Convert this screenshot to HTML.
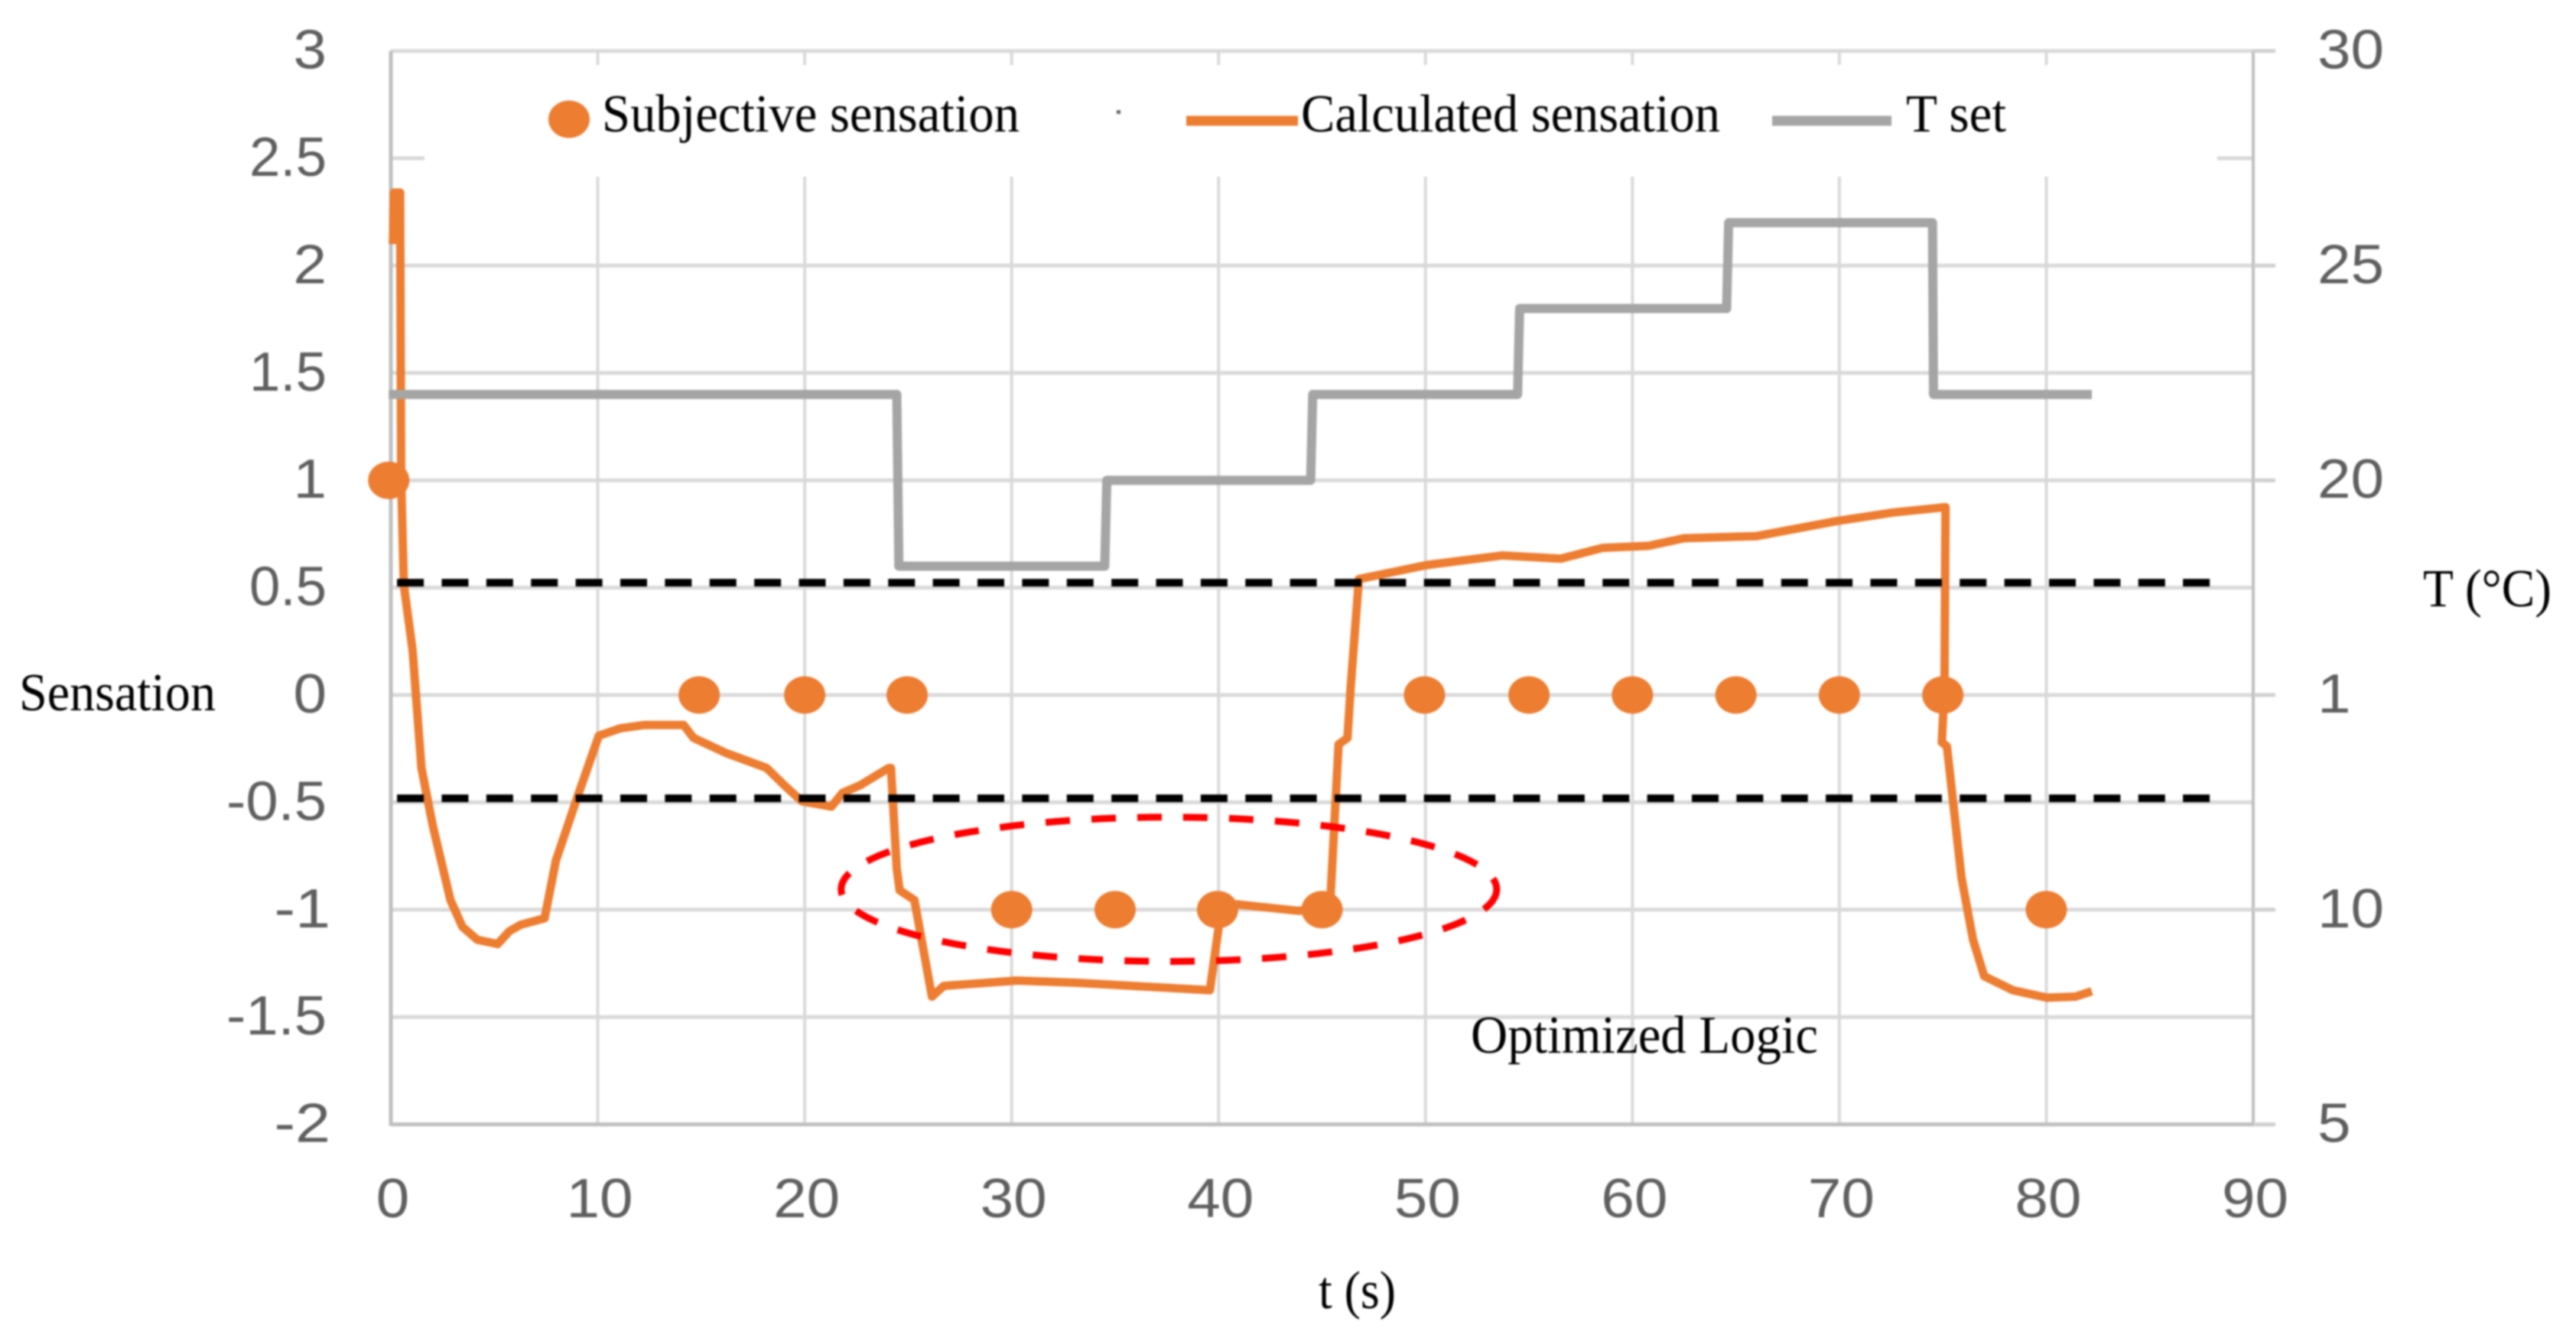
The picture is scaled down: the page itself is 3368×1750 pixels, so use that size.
<!DOCTYPE html>
<html lang="en">
<head>
<meta charset="utf-8">
<title>Subjective and calculated sensation over time</title>
<style>
  html, body { margin: 0; padding: 0; background: #fff; }
  #chart { display: block; width: 3368px; height: 1750px; filter: blur(1.1px); }
  .serif { font-family: "Liberation Serif", serif; font-size: 70px; fill: #000; }
  .tick { font-family: "Liberation Sans", sans-serif; font-size: 72px; fill: #5f5f5f; }
</style>
</head>
<body>
<svg id="chart" xmlns="http://www.w3.org/2000/svg" width="3368" height="1750" viewBox="0 0 3368 1750">
  <rect x="0" y="0" width="3368" height="1750" fill="#fff"/>
  <g id="grid"></g>
  <rect x="555" y="85" width="2344" height="146" fill="#fff"/>
  <g id="axes"></g>
  <g id="series"></g>
  <g id="ticks"></g>

  <g>
    <g>
      <ellipse cx="744" cy="156" rx="27" ry="24.5" fill="#ed7d31"/>
      <text class="serif" x="787" y="172" textLength="546" lengthAdjust="spacingAndGlyphs">Subjective sensation</text>
    </g>
    <rect x="1460" y="144" width="5" height="5" fill="#666"/>
    <g>
      <rect x="1551" y="151.5" width="146" height="13" fill="#ed7d31"/>
      <text class="serif" x="1701" y="172" textLength="548" lengthAdjust="spacingAndGlyphs">Calculated sensation</text>
    </g>
    <g>
      <rect x="2317" y="151.5" width="156" height="13" fill="#a5a5a5"/>
      <text class="serif" x="2492" y="172" textLength="131" lengthAdjust="spacingAndGlyphs">T set</text>
    </g>
  </g>

  <text class="serif" x="25" y="929" textLength="257" lengthAdjust="spacingAndGlyphs">Sensation</text>
  <text class="serif" x="3168" y="793" textLength="168" lengthAdjust="spacingAndGlyphs">T (°C)</text>
  <text class="serif" x="1724" y="1711" textLength="101" lengthAdjust="spacingAndGlyphs">t (s)</text>
  <text class="serif" x="1923" y="1377" textLength="454" lengthAdjust="spacingAndGlyphs">Optimized Logic</text>
</svg>

<script>
const xTickLabels = ["0", "10", "20", "30", "40", "50", "60", "70", "80", "90"];
const yTickValues = [3, 2.5, 2, 1.5, 1, 0.5, 0, -0.5, -1, -1.5, -2];
const yTickLabels = ["3", "2.5", "2", "1.5", "1", "0.5", "0", "-0.5", "-1", "-1.5", "-2"];
const rightTickValues = [30, 25, 20, 15, 10, 5];
const rightTickLabels = ["30", "25", "20", "1", "10", "5"];

const subjectiveT = [-0.1, 14.9, 20, 24.95, 30, 35, 39.95, 45, 49.95, 55, 60, 65, 70, 75, 80];
const subjectiveV = [1, 0, 0, 0, -1, -1, -1, -1, 0, 0, 0, 0, 0, 0, -1];

const calculatedT = [0.1, 0.15, 0.45, 0.5, 0.63, 1.05, 1.48, 2.03, 2.88, 3.46, 4.18, 5.16, 5.73, 6.28, 7.43, 7.98, 8.98, 10.05, 11.09, 12.23, 14.15, 14.63, 16.19, 18.16, 19.01, 19.86, 21.29, 21.84, 22.69, 24.06, 24.17, 24.45, 24.59, 25.3, 26.15, 26.72, 30.25, 33.07, 39.58, 40.13, 40.86, 43.83, 45.38, 45.8, 46.23, 46.38, 46.78, 50.04, 53.73, 56.54, 58.54, 60.79, 62.49, 66.0, 69.86, 72.6, 75.13, 75.08, 74.95, 75.2, 75.9, 76.46, 77.0, 78.38, 80.04, 81.41, 82.2];
const calculatedV = [2.1, 2.34, 2.34, 1.0, 0.51, 0.21, -0.34, -0.61, -0.955, -1.08, -1.14, -1.16, -1.1, -1.07, -1.04, -0.77, -0.485, -0.19, -0.155, -0.14, -0.14, -0.2, -0.27, -0.34, -0.42, -0.495, -0.52, -0.455, -0.42, -0.34, -0.34, -0.81, -0.91, -0.955, -1.405, -1.355, -1.33, -1.34, -1.375, -0.995, -0.975, -1.005, -0.995, -0.23, -0.2, 0.03, 0.54, 0.605, 0.65, 0.635, 0.685, 0.695, 0.73, 0.74, 0.81, 0.85, 0.875, 0.03, -0.22, -0.24, -0.85, -1.14, -1.31, -1.375, -1.41, -1.405, -1.38];

const tsetT = [-0.1, 24.45, 24.55, 34.5, 34.6, 44.45, 44.55, 54.45, 54.55, 64.55, 64.65, 74.5, 74.55, 82.2];
const tsetC = [22, 22, 18, 18, 20, 20, 22, 22, 24, 24, 26, 26, 22, 22];

const comfortBandV = [0.523, -0.481];
const comfortBandT = [0.3, 87.9];

const ellipseCenterT = 37.6;
const ellipseCenterV = -0.905;
const ellipseRadiusT = 15.84;
const ellipseRadiusV = 0.336;

const NS = "http://www.w3.org/2000/svg";
const PLOT = { left: 511, right: 2946, top: 66.6, bottom: 1470.6 };
const xScale = t => PLOT.left + (PLOT.right - PLOT.left) * t / 90;
const yScale = v => PLOT.top + (PLOT.bottom - PLOT.top) * (3 - v) / 5;
const tScale = c => PLOT.top + (PLOT.bottom - PLOT.top) * (30 - c) / 25;

function mk(tag, attrs, parent) {
  const el = document.createElementNS(NS, tag);
  for (const k in attrs) el.setAttribute(k, attrs[k]);
  parent.appendChild(el);
  return el;
}
function labelWidth(s) {
  let w = 0;
  for (const ch of s) w += ch === "." ? 14 : ch === "-" ? 30 : 43.5;
  return w;
}

const grid = document.getElementById("grid");
const axes = document.getElementById("axes");
const series = document.getElementById("series");
const ticks = document.getElementById("ticks");

/* gridlines */
yTickValues.forEach(function (v) {
  const line = mk("line", { x1: PLOT.left, x2: PLOT.right, y1: yScale(v), y2: yScale(v), stroke: "#d9d9d9", "stroke-width": 5 }, grid);
  
  
});
xTickLabels.forEach(function (s) {
  const x = xScale(Number(s));
  if (x === PLOT.left || Number(s) === 90) return;
  const line = mk("line", { x1: x, x2: x, y1: PLOT.top, y2: PLOT.bottom, stroke: "#d9d9d9", "stroke-width": 4 }, grid);
  
  
});

/* axes */
const leftAxis = mk("line", { x1: PLOT.left, x2: PLOT.left, y1: PLOT.top, y2: PLOT.bottom + 2, stroke: "#bfbfbf", "stroke-width": 5 }, axes);


const rightAxis = mk("line", { x1: PLOT.right, x2: PLOT.right, y1: PLOT.top, y2: PLOT.bottom + 2, stroke: "#bfbfbf", "stroke-width": 4 }, axes);


const bottomAxis = mk("line", { x1: PLOT.left, x2: PLOT.right + 29, y1: PLOT.bottom, y2: PLOT.bottom, stroke: "#bfbfbf", "stroke-width": 5 }, axes);


rightTickValues.forEach(function (c) {
  const tick = mk("line", { x1: PLOT.right, x2: PLOT.right + 29, y1: tScale(c), y2: tScale(c), stroke: "#d0d0d0", "stroke-width": 5 }, axes);
  
  
});

/* calculated sensation */
const calcPts = calculatedT.map((t, i) => xScale(t) + "," + yScale(calculatedV[i])).join(" ");
const calcLine = mk("polyline", { points: calcPts, fill: "none", stroke: "#ed7d31", "stroke-width": 11, "stroke-linejoin": "round", "stroke-linecap": "butt" }, series);



/* subjective sensation */
subjectiveT.forEach(function (t, i) {
  const dot = mk("ellipse", { cx: xScale(t), cy: yScale(subjectiveV[i]), rx: 27, ry: 24.5, fill: "#ed7d31" }, series);
  
  
});

/* T set */
const tsetPts = tsetT.map((t, i) => xScale(t) + "," + tScale(tsetC[i])).join(" ");
const tsetLine = mk("polyline", { points: tsetPts, fill: "none", stroke: "#a5a5a5", "stroke-width": 12, "stroke-linejoin": "round", "stroke-linecap": "butt" }, series);



/* comfort band */
comfortBandV.forEach(function (v) {
  const line = mk("line", { x1: xScale(comfortBandT[0]), x2: xScale(comfortBandT[1]), y1: yScale(v), y2: yScale(v), stroke: "#000", "stroke-width": 10, "stroke-dasharray": "35 23.375" }, series);
  
  
});

/* highlight ellipse */
const ring = mk("ellipse", {
  cx: xScale(ellipseCenterT),
  cy: yScale(ellipseCenterV),
  rx: xScale(ellipseRadiusT) - xScale(0),
  ry: yScale(0) - yScale(ellipseRadiusV),
  fill: "none", stroke: "#ff0000", "stroke-width": 9, "stroke-dasharray": "32 28"
}, series);



/* tick labels */
yTickLabels.forEach(function (s, i) {
  const endX = (s[0] === "-" && s.indexOf(".") < 0) ? 432 : 427;
  const t = mk("text", { class: "tick", x: endX, y: yScale(yTickValues[i]) + 23, "text-anchor": "end", textLength: labelWidth(s), lengthAdjust: "spacingAndGlyphs" }, ticks);
  t.textContent = s;
  
  
});
rightTickLabels.forEach(function (s, i) {
  const t = mk("text", { class: "tick", x: 3030, y: tScale(rightTickValues[i]) + 23, textLength: labelWidth(s), lengthAdjust: "spacingAndGlyphs" }, ticks);
  t.textContent = s;
  
  
});
xTickLabels.forEach(function (s) {
  const t = mk("text", { class: "tick", x: xScale(Number(s)) + 2.5, y: 1592, "text-anchor": "middle", textLength: labelWidth(s), lengthAdjust: "spacingAndGlyphs" }, ticks);
  t.textContent = s;
  
  
});
</script>
</body>
</html>
